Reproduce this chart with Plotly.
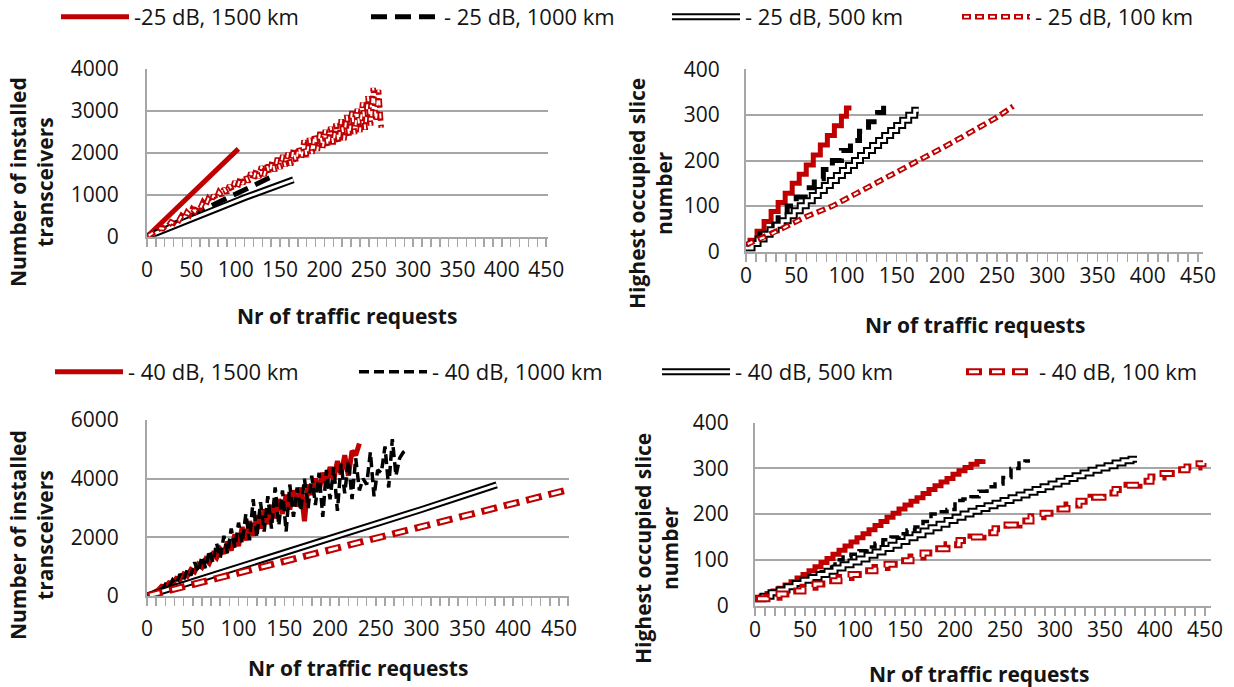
import plotly.graph_objects as go

W, H = 1234, 687
FONT = "Open Sans"
RED = "#C00000"
BLACK = "#000000"
GRID = "#A6A6A6"
TXT = "#141414"

# ---------------- data ----------------
x_ticks = [0, 50, 100, 150, 200, 250, 300, 350, 400, 450]
y_ticks_tl = [0, 1000, 2000, 3000, 4000]
y_ticks_bl = [0, 2000, 4000, 6000]
y_ticks_slice = [0, 100, 200, 300, 400]

labels_25 = ["-25 dB, 1500 km", "- 25 dB, 1000 km", "- 25 dB, 500 km", "- 25 dB, 100 km"]
labels_40 = ["- 40 dB, 1500 km", "- 40 dB, 1000 km", "- 40 dB, 500 km", "- 40 dB, 100 km"]

x_title = "Nr of traffic requests"
y_title_trx = "Number of installed<br>transceivers"
y_title_slice = "Highest occupied slice<br>number"

# top-left: installed transceivers, -25 dB
tl_1500_x = [0, 25, 50, 75, 103]
tl_1500_y = [0, 510, 1020, 1525, 2095]
tl_1000_x = [0, 35, 70, 105, 138]
tl_1000_y = [0, 350, 700, 1060, 1405]
tl_500_x = [0, 55, 110, 165]
tl_500_y = [0, 470, 930, 1357]
tl_100_x = list(range(0, 265, 3))
tl_100_y = [0, 40, 60, 120, 130, 200, 190, 270, 260, 350, 320, 420, 390, 500, 450,
            580, 520, 660, 600, 730, 680, 820, 740, 900, 820, 990, 900, 1060, 980,
            1150, 1040, 1230, 1100, 1320, 1170, 1400, 1250, 1460, 1300, 1530, 1350,
            1600, 1400, 1680, 1450, 1720, 1500, 1800, 1560, 1880, 1620, 1950, 1680,
            2000, 1700, 2080, 1780, 2150, 1850, 2300, 1900, 2350, 1980, 2450, 2050,
            2500, 2100, 2550, 2150, 2620, 2200, 2700, 2250, 2800, 2300, 2900, 2400,
            3000, 2450, 3050, 2500, 3200, 2550, 3350, 2650, 3550, 2750, 3500, 2600]

# top-right: highest occupied slice, -25 dB
tr_1500_x = [0, 4, 11, 18, 25, 32, 39, 46, 53, 60, 67, 74, 81, 88, 95, 100, 105]
tr_1500_y = [10, 25, 45, 66, 88, 108, 128, 150, 170, 190, 212, 234, 255, 276, 297, 315, 315]
tr_1000_x = [0, 5, 14, 23, 32, 41, 50, 59, 68, 77, 86, 95, 104, 113, 122, 131, 137]
tr_1000_y = [10, 20, 40, 60, 80, 100, 120, 140, 160, 180, 200, 222, 244, 264, 285, 305, 320]
tr_500_x = [0, 6, 12, 18, 24, 30, 36, 42, 48, 54, 60, 66, 72, 78, 84, 90, 96, 102, 108,
            114, 120, 126, 132, 138, 144, 150, 156, 162, 168, 172]
tr_500_y = [8, 18, 28, 38, 48, 58, 68, 79, 90, 101, 112, 123, 134, 145, 156, 167, 178,
            189, 200, 211, 222, 233, 244, 255, 266, 277, 288, 299, 310, 310]
tr_100_x = [0, 10, 20, 40, 60, 86, 110, 140, 173, 200, 230, 250, 266]
tr_100_y = [15, 25, 33, 55, 77, 100, 128, 163, 200, 233, 270, 295, 319]

# bottom-left: installed transceivers, -40 dB
bl_1500_x = list(range(0, 233, 4))
bl_1500_y = [0, 60, 150, 200, 330, 300, 450, 420, 600, 560, 750, 680, 900, 820, 1080,
             980, 1250, 1120, 1420, 1300, 1600, 1450, 1850, 1550, 2100, 1700, 2350,
             1900, 2550, 2050, 2750, 2300, 2950, 2450, 3100, 2650, 3300, 2800, 3450,
             2950, 3600, 3050, 3700, 2550, 3800, 3450, 4000, 3600, 4200, 3800, 4400,
             3950, 4600, 4150, 4800, 4100, 4950, 4800, 5200]
bl_1000_x = list(range(0, 285, 4))
bl_1000_y = [0, 80, 120, 250, 200, 400, 300, 550, 420, 750, 550, 900, 700, 1150, 820,
             1350, 950, 1550, 1150, 1800, 1300, 2050, 1450, 2300, 1650, 2500, 1800,
             2800, 1900, 3300, 2000, 3200, 2200, 3400, 2300, 3700, 2400, 3600, 2200,
             3800, 2700, 3700, 2900, 4000, 3000, 4100, 3100, 4200, 2700, 4300, 3300,
             4400, 2900, 4500, 3500, 4600, 3300, 4700, 3600, 4000, 3800, 4900, 3400,
             4300, 4200, 5100, 3700, 5350, 4100, 4700, 4900, 5000]
bl_500_x = [0, 100, 200, 300, 382]
bl_500_y = [0, 975, 1960, 2950, 3790]
bl_100_x = [0, 100, 200, 300, 400, 461]
bl_100_y = [0, 790, 1575, 2360, 3150, 3630]

# bottom-right: highest occupied slice, -40 dB
br_1500_x = list(range(0, 229, 6))
br_1500_y = [18, 20, 26, 32, 38, 45, 52, 60, 68, 76, 85, 94, 103, 112, 121, 130, 139,
             148, 157, 166, 175, 184, 193, 202, 211, 220, 228, 236, 245, 254, 262, 270,
             278, 287, 295, 302, 309, 315, 320]
br_1000_x = [0, 8, 16, 24, 32, 40, 48, 56, 64, 72, 80, 88, 96, 104, 112, 120, 128, 136,
             144, 152, 160, 168, 176, 184, 192, 200, 208, 216, 224, 232, 240, 248, 256,
             264, 270, 275]
br_1000_y = [18, 20, 27, 34, 41, 48, 55, 64, 74, 84, 100, 106, 112, 120, 128, 136, 144,
             150, 157, 165, 172, 184, 200, 205, 210, 230, 233, 238, 250, 260, 266, 280,
             300, 312, 316, 316]
br_500_x = list(range(0, 377, 8)) + [382]
br_500_y = [15, 20, 28, 34, 41, 48, 55, 61, 68, 75, 82, 89, 95, 102, 110, 117, 125, 132,
            140, 148, 155, 163, 170, 178, 186, 193, 200, 206, 212, 218, 224, 230, 236,
            242, 248, 254, 260, 266, 272, 278, 284, 290, 296, 301, 306, 312, 317, 320, 320]
br_100_x = list(range(0, 445, 12)) + [448]
br_100_y = [15, 18, 25, 32, 40, 47, 54, 61, 68, 76, 83, 90, 98, 106, 115, 124, 133, 142,
            150, 159, 168, 176, 185, 194, 202, 211, 220, 228, 237, 246, 254, 263, 272,
            281, 289, 297, 303, 310, 312]

# ---------------- styles ----------------
STY_TOP = {
    "1500": [dict(color=RED, width=5)],
    "1000": [dict(color=BLACK, width=5, dash="16px,8px")],
    "500": [dict(color=BLACK, width=7), dict(color="white", width=3)],
    "100": [dict(color=RED, width=5.5, dash="9px,4px"),
            dict(color="white", width=2, dash="0px,2px,5px,6px")],
}
STY_BOT = {
    "1500": [dict(color=RED, width=5)],
    "1000": [dict(color=BLACK, width=3.5, dash="10px,5px")],
    "500": [dict(color=BLACK, width=7), dict(color="white", width=3)],
    "100": [dict(color=RED, width=7, dash="16px,7px"),
            dict(color="white", width=3, dash="0px,3px,10px,10px")],
}

fig = go.Figure()

keys = ["1500", "1000", "500", "100"]


def add_series(x, y, xa, ya, styles, name, legends, show, shape="linear"):
    for i, st in enumerate(styles):
        fig.add_trace(go.Scatter(
            x=x, y=y, xaxis=xa, yaxis=ya, mode="lines", name=name,
            line=dict(shape=shape, **st), legend=legends[i],
            showlegend=show, hoverinfo="skip"))


top_legs = [["legend"], ["legend2"], ["legend3", "legend9"], ["legend4", "legend10"]]
bot_legs = [["legend5"], ["legend6"], ["legend7", "legend11"], ["legend8", "legend12"]]

tl_data = [(tl_1500_x, tl_1500_y), (tl_1000_x, tl_1000_y), (tl_500_x, tl_500_y), (tl_100_x, tl_100_y)]
tr_data = [(tr_1500_x, tr_1500_y), (tr_1000_x, tr_1000_y), (tr_500_x, tr_500_y), (tr_100_x, tr_100_y)]
bl_data = [(bl_1500_x, bl_1500_y), (bl_1000_x, bl_1000_y), (bl_500_x, bl_500_y), (bl_100_x, bl_100_y)]
br_data = [(br_1500_x, br_1500_y), (br_1000_x, br_1000_y), (br_500_x, br_500_y), (br_100_x, br_100_y)]

for i, k in enumerate(keys):
    add_series(*tl_data[i], "x", "y", STY_TOP[k], labels_25[i], top_legs[i], True)
for i, k in enumerate(keys):
    add_series(*tr_data[i], "x2", "y2", STY_TOP[k], labels_25[i], ["legend"] * 2, False,
               shape="linear" if k == "100" else "hv")
for i, k in enumerate(keys):
    add_series(*bl_data[i], "x3", "y3", STY_BOT[k], labels_40[i], bot_legs[i], True)
for i, k in enumerate(keys):
    add_series(*br_data[i], "x4", "y4", STY_BOT[k], labels_40[i], ["legend"] * 2, False,
               shape="hv")

# ---------------- axes ----------------
tickfont = dict(family=FONT, size=21, color=TXT)


def xax(p0, p1, rmax, anchor, standoff):
    return dict(domain=[p0 / W, p1 / W], range=[0, rmax], anchor=anchor,
                tickmode="array", tickvals=x_ticks, ticks="outside", ticklen=8,
                tickwidth=1.5, tickcolor=GRID,
                minor=dict(tickmode="linear", tick0=0, dtick=10, ticks="outside",
                           ticklen=8, tickwidth=1.5, tickcolor=GRID, showgrid=False),
                showgrid=False, zeroline=False, showline=True, linecolor=GRID,
                linewidth=2, tickfont=tickfont, ticklabelstandoff=standoff,
                fixedrange=True)


def yax(p_bottom, p_top, rmax, vals, anchor, standoff):
    return dict(domain=[1 - p_bottom / H, 1 - p_top / H], range=[0, rmax], anchor=anchor,
                tickmode="array", tickvals=vals, ticks="", showgrid=True,
                gridcolor=GRID, gridwidth=2, showline=True, linecolor=GRID,
                linewidth=2, zeroline=False, tickfont=tickfont,
                ticklabelstandoff=standoff, fixedrange=True)


def leg(xpx, ypx, color=TXT):
    return dict(x=xpx / W, y=1 - ypx / H, xref="paper", yref="paper",
                xanchor="left", yanchor="middle", orientation="h",
                bgcolor="rgba(0,0,0,0)", borderwidth=0, itemwidth=68,
                font=dict(family=FONT, size=22, color=color),
                itemclick=False, itemdoubleclick=False)


def ann(text, xpx, ypx, angle=0):
    return dict(text=text, x=xpx / W, y=1 - ypx / H, xref="paper", yref="paper",
                showarrow=False, xanchor="center", yanchor="middle", textangle=angle,
                font=dict(family=FONT, size=21, color=TXT, weight="bold"))


leg_pos_top = [(56, 17), (366, 17), (667, 17), (957, 17)]
leg_pos_bot = [(50, 372), (354, 372), (657, 372), (961, 372)]
clear = "rgba(0,0,0,0)"

layout_legends = {}
names = ["legend", "legend2", "legend3", "legend4"]
for n, p in zip(names, leg_pos_top):
    layout_legends[n] = leg(*p)
for n, p in zip(["legend5", "legend6", "legend7", "legend8"], leg_pos_bot):
    layout_legends[n] = leg(*p)
layout_legends["legend9"] = leg(*leg_pos_top[2], color=clear)
layout_legends["legend10"] = leg(*leg_pos_top[3], color=clear)
layout_legends["legend11"] = leg(*leg_pos_bot[2], color=clear)
layout_legends["legend12"] = leg(*leg_pos_bot[3], color=clear)

fig.update_layout(
    width=W, height=H, autosize=False,
    margin=dict(l=0, r=0, t=0, b=0, pad=0, autoexpand=False),
    paper_bgcolor="white", plot_bgcolor="white",
    font=dict(family=FONT, size=21, color=TXT),
    xaxis=xax(147, 548, 452, "y", 5),
    yaxis=yax(236.7, 69, 4000, y_ticks_tl, "x", 22),
    xaxis2=xax(746, 1203, 455, "y2", -4),
    yaxis2=yax(251.7, 69.3, 400, y_ticks_slice, "x2", 20),
    xaxis3=xax(147, 569, 461, "y3", 5),
    yaxis3=yax(596, 420, 6000, y_ticks_bl, "x3", 22),
    xaxis4=xax(755, 1211, 456, "y4", -4),
    yaxis4=yax(605.5, 422.7, 400, y_ticks_slice, "x4", 20),
    annotations=[
        ann(x_title, 347, 316), ann(x_title, 975, 325),
        ann(x_title, 358, 668), ann(x_title, 979, 674),
        ann(y_title_trx, 31, 182, -90), ann(y_title_slice, 650, 194, -90),
        ann(y_title_trx, 31, 535, -90), ann(y_title_slice, 656, 549, -90),
    ],
    hovermode=False,
    **layout_legends,
)

fig.write_html(
    "out.html",
    config={"displayModeBar": False, "staticPlot": True},
    post_script="document.body.style.margin='0px';document.body.style.overflow='hidden';",
)
